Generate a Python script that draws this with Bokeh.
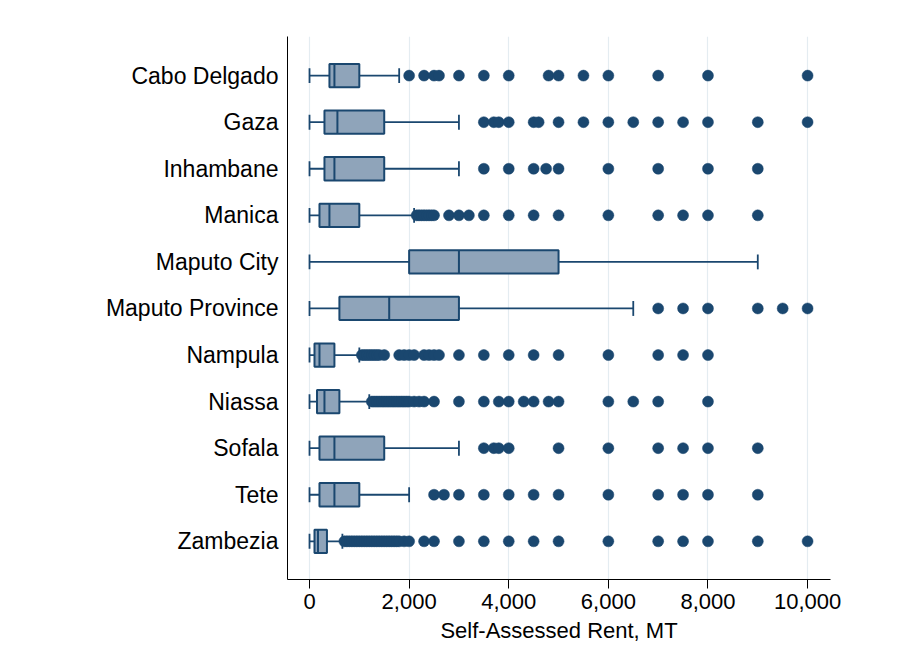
from bokeh.plotting import figure
from bokeh.models import Range1d, FixedTicker, NumeralTickFormatter, ColumnDataSource
from bokeh.embed import file_html
from bokeh.resources import INLINE

# ---------------- data ----------------
categories = ["Cabo Delgado", "Gaza", "Inhambane", "Manica", "Maputo City",
              "Maputo Province", "Nampula", "Niassa", "Sofala", "Tete", "Zambezia"]
whisker_lo = [0, 0, 0, 0, 0, 0, 0, 0, 0, 0, 0]
q1 =         [400, 300, 300, 200, 2000, 600, 100, 150, 200, 200, 100]
median =     [500, 560, 500, 400, 3000, 1600, 200, 300, 500, 500, 170]
q3 =         [1000, 1500, 1500, 1000, 5000, 3000, 500, 600, 1500, 1000, 350]
whisker_hi = [1800, 3000, 3000, 2100, 9000, 6500, 1000, 1200, 3000, 2000, 660]

out_cabo_delgado = [2000, 2300, 2500, 2600, 3000, 3500, 4000, 4800, 5000, 5500, 6000, 7000, 8000, 10000]
out_gaza = [3500, 3700, 3800, 4000, 4500, 4600, 5000, 5500, 6000, 6500, 7000, 7500, 8000, 9000, 10000]
out_inhambane = [3500, 4000, 4500, 4750, 5000, 6000, 7000, 8000, 9000]
out_manica = [2150, 2200, 2250, 2300, 2350, 2400, 2450, 2500, 2800, 3000, 3200, 3500, 4000, 4500, 5000,
              6000, 7000, 7500, 8000, 9000]
out_maputo_city = []
out_maputo_province = [7000, 7500, 8000, 9000, 9500, 10000]
out_nampula = [1050, 1100, 1150, 1200, 1250, 1300, 1350, 1400, 1500, 1800, 1900, 2000, 2100, 2300, 2400,
               2500, 2600, 3000, 3500, 4000, 4500, 5000, 6000, 7000, 7500, 8000]
out_niassa = [1250, 1300, 1350, 1400, 1450, 1500, 1550, 1600, 1650, 1700, 1750, 1800, 1850, 1900, 1950,
              2000, 2100, 2200, 2300, 2500, 3000, 3500, 3800, 4000, 4300, 4500, 4800, 5000, 6000, 6500,
              7000, 8000]
out_sofala = [3500, 3700, 3800, 4000, 5000, 6000, 7000, 7500, 8000, 9000]
out_tete = [2500, 2700, 3000, 3500, 4000, 4500, 5000, 6000, 7000, 7500, 8000, 9000]
out_zambezia = [700, 750, 800, 850, 900, 950, 1000, 1050, 1100, 1150, 1200, 1250, 1300, 1350, 1400, 1450,
                1500, 1550, 1600, 1650, 1700, 1750, 1800, 1900, 2000, 2300, 2500, 3000, 3500, 4000, 4500,
                5000, 6000, 7000, 7500, 8000, 9000, 10000]
outliers = [out_cabo_delgado, out_gaza, out_inhambane, out_manica, out_maputo_city, out_maputo_province,
            out_nampula, out_niassa, out_sofala, out_tete, out_zambezia]

x_ticks = [0, 2000, 4000, 6000, 8000, 10000]
x_title = "Self-Assessed Rent, MT"

# ---------------- styling ----------------
NAVY = "#1A476F"
FILL = "#8FA4BA"
FONT = "Liberation Sans"

pos = list(range(len(categories)))
BOX_H = 0.5
CAP_H = 0.32

p = figure(width=895, height=654, output_backend="svg", toolbar_location=None,
           x_range=Range1d(-442, 10460), y_range=Range1d(10.82, -0.84),
           min_border_left=287, min_border_right=65, min_border_top=36, min_border_bottom=75)
p.background_fill_color = "white"
p.border_fill_color = "white"
p.outline_line_color = None

src = ColumnDataSource(dict(
    y=pos, lo=whisker_lo, q1=q1, med=median, q3=q3, hi=whisker_hi,
    y_cap0=[v - CAP_H / 2 for v in pos], y_cap1=[v + CAP_H / 2 for v in pos],
    y_box0=[v - BOX_H / 2 for v in pos], y_box1=[v + BOX_H / 2 for v in pos],
))

# whiskers
p.segment(x0="lo", y0="y", x1="q1", y1="y", source=src, line_color=NAVY, line_width=1.8)
p.segment(x0="q3", y0="y", x1="hi", y1="y", source=src, line_color=NAVY, line_width=1.8)
p.segment(x0="lo", y0="y_cap0", x1="lo", y1="y_cap1", source=src, line_color=NAVY, line_width=1.8)
p.segment(x0="hi", y0="y_cap0", x1="hi", y1="y_cap1", source=src, line_color=NAVY, line_width=1.8)
# boxes
p.hbar(y="y", left="q1", right="q3", height=BOX_H, source=src, fill_color=FILL,
       line_color=NAVY, line_width=2)
p.segment(x0="med", y0="y_box0", x1="med", y1="y_box1", source=src, line_color=NAVY, line_width=2)

# outliers
ox, oy = [], []
for i, vals in enumerate(outliers):
    ox.extend(vals)
    oy.extend([pos[i]] * len(vals))
p.scatter(x=ox, y=oy, size=11, marker="circle", fill_color=NAVY, line_color=NAVY, line_width=0.5)

# grid
p.xgrid.ticker = FixedTicker(ticks=x_ticks)
p.xgrid.grid_line_color = "#E4ECF1"
p.xgrid.grid_line_width = 1.2
p.ygrid.grid_line_color = None

# x axis
xa = p.xaxis[0]
xa.ticker = FixedTicker(ticks=x_ticks)
xa.formatter = NumeralTickFormatter(format="0,0")
xa.axis_label = x_title
xa.axis_line_color = "black"
xa.axis_line_width = 1
xa.major_tick_line_color = "black"
xa.major_tick_in = 0
xa.major_tick_out = 9
xa.minor_tick_line_color = None
xa.major_label_standoff = 5
xa.axis_label_standoff = 6
xa.major_label_text_font = FONT
xa.major_label_text_font_size = "22px"
xa.major_label_text_color = "black"
xa.axis_label_text_font = FONT
xa.axis_label_text_font_size = "22px"
xa.axis_label_text_font_style = "normal"
xa.axis_label_text_color = "black"

# y axis
ya = p.yaxis[0]
ya.ticker = FixedTicker(ticks=pos)
ya.major_label_overrides = {i: c for i, c in zip(pos, categories)}
ya.axis_line_color = "black"
ya.axis_line_width = 1
ya.major_tick_line_color = None
ya.major_tick_in = 0
ya.major_tick_out = 0
ya.minor_tick_line_color = None
ya.major_label_standoff = 9
ya.major_label_text_font = FONT
ya.major_label_text_font_size = "23px"
ya.major_label_text_color = "black"

open("out.html", "w").write(file_html(p, INLINE))
